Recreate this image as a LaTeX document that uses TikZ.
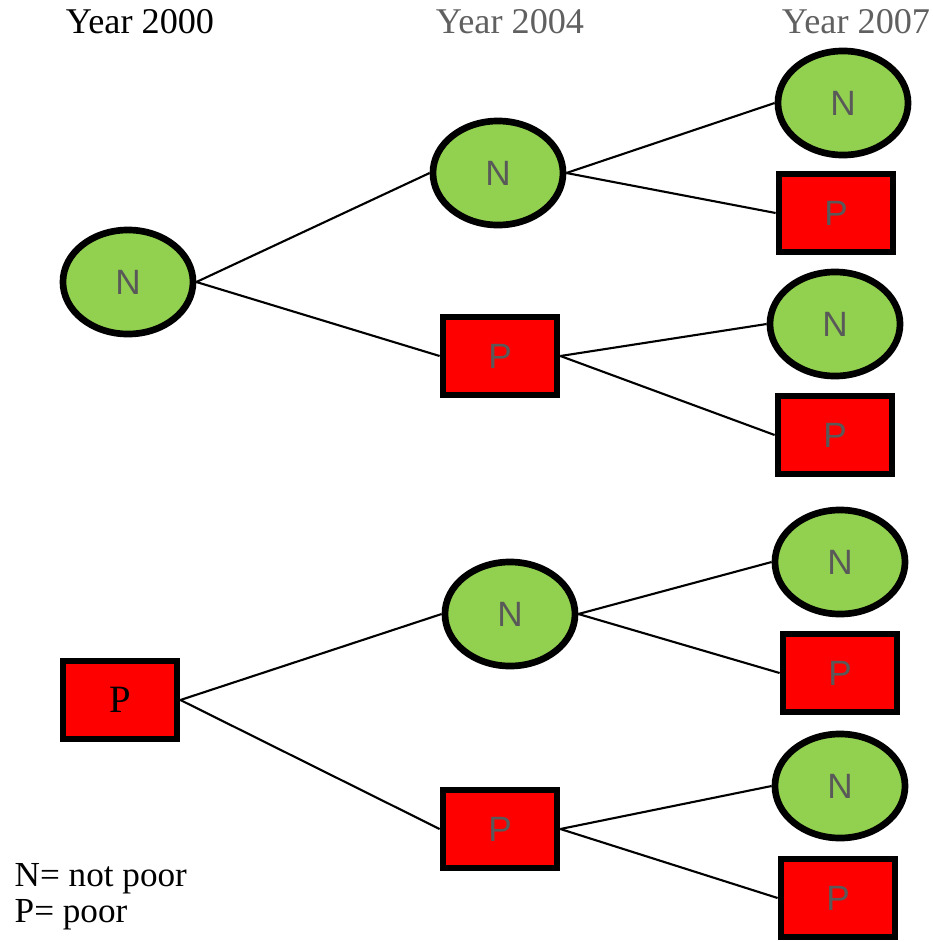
\documentclass[tikz,border=0pt]{standalone}
\usepackage{fontspec}
\setmainfont{Liberation Serif}
\newfontfamily\arialfont{Liberation Sans}
\usetikzlibrary{shapes.geometric}
\definecolor{leafgreen}{HTML}{92D050}
\definecolor{lettergray}{HTML}{595959}
\definecolor{yeargray}{HTML}{606060}

\begin{document}
\begin{tikzpicture}[x=0.01cm,y=-0.01cm,
    notpoor/.style={ellipse,draw,line width=1.9pt,fill=leafgreen,minimum width=1.30cm,minimum height=1.04cm,inner sep=0pt,font=\arialfont\fontsize{10}{12}\selectfont,text=lettergray},
    poor/.style={rectangle,draw,line width=1.9pt,fill=red,minimum width=1.14cm,minimum height=0.78cm,inner sep=0pt,font=\arialfont\fontsize{10}{12}\selectfont,text=lettergray},
    link/.style={line width=0.6pt},
    yearlbl/.style={font=\fontsize{10.3}{12}\selectfont}]
    \useasboundingbox (0,0) rectangle (932,942);

    % column headings
    \node[yearlbl] (y00) at (140,22) {Year 2000};
    \node[yearlbl,text=yeargray] (y04) at (510,22) {Year 2004};
    \node[yearlbl,text=yeargray] (y07) at (856,22) {Year 2007};

    % upper tree
    \node[notpoor] (n00) at (128,282) {N};
    \node[notpoor] (n04a) at (498,173) {N};
    \node[poor] (p04a) at (500,356) {P};
    \node[notpoor] (n07a) at (843,103) {N};
    \node[poor] (p07a) at (836,213) {P};
    \node[notpoor] (n07b) at (835,324) {N};
    \node[poor] (p07b) at (835,435) {P};

    \draw[link] (n00.east) -- (n04a.west);
    \draw[link] (n00.east) -- (p04a.west);
    \draw[link] (n04a.east) -- (n07a.west);
    \draw[link] (n04a.east) -- (p07a.west);
    \draw[link] (p04a.east) -- (n07b.west);
    \draw[link] (p04a.east) -- (p07b.west);

    % lower tree
    \node[poor,font=\fontsize{11}{12}\selectfont,text=black] (p00) at (120,700) {P};
    \node[notpoor] (n04b) at (510,614) {N};
    \node[poor] (p04b) at (500,829) {P};
    \node[notpoor] (n07c) at (840,562) {N};
    \node[poor] (p07c) at (840,673) {P};
    \node[notpoor] (n07d) at (840,786) {N};
    \node[poor] (p07d) at (838,898) {P};

    \draw[link] (p00.east) -- (n04b.west);
    \draw[link] (p00.east) -- (p04b.west);
    \draw[link] (n04b.east) -- (n07c.west);
    \draw[link] (n04b.east) -- (p07c.west);
    \draw[link] (p04b.east) -- (n07d.west);
    \draw[link] (p04b.east) -- (p07d.west);

    % key
    \node[anchor=west,align=left,font=\fontsize{10}{10.2}\selectfont,inner sep=0pt] (key) at (14,897) {N= not poor\\P= poor};
\end{tikzpicture}
\end{document}
